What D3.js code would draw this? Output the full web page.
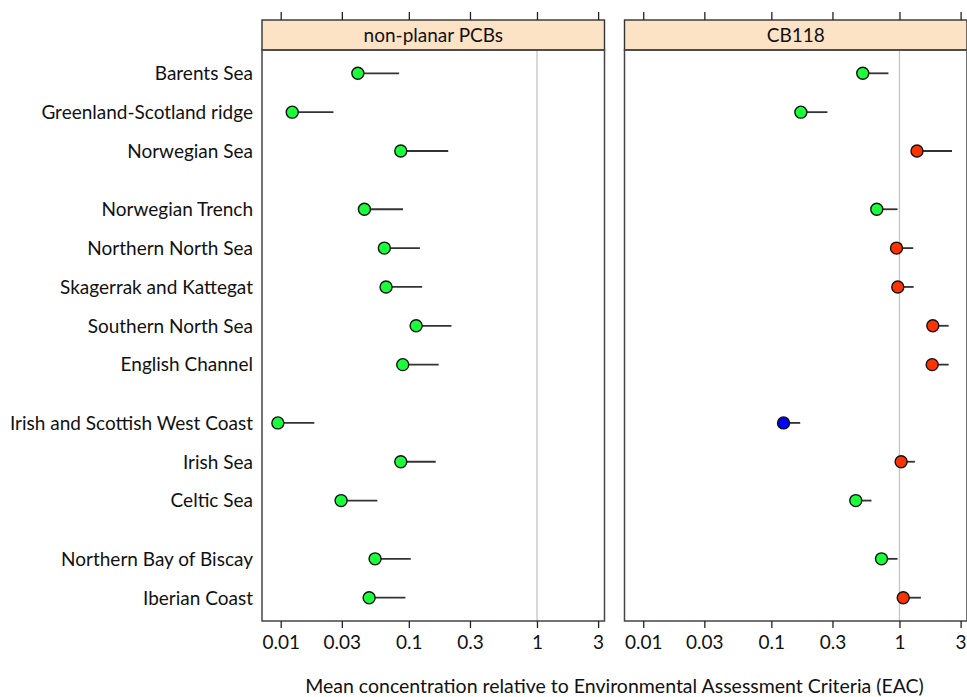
<!DOCTYPE html>
<html>
<head>
<meta charset="utf-8">
<script src="https://cdn.jsdelivr.net/npm/d3@7"></script>
<style>
  html, body { margin: 0; padding: 0; background: #ffffff; }
  svg { display: block; }
  text { font-family: Lato, "Open Sans", sans-serif; fill: #111; }
</style>
</head>
<body>
<svg id="chart" width="967" height="697"></svg>
<script>
// Regions, top to bottom; group index puts extra space between sea areas
const regions = [
  "Barents Sea", "Greenland-Scotland ridge", "Norwegian Sea",
  "Norwegian Trench", "Northern North Sea", "Skagerrak and Kattegat",
  "Southern North Sea", "English Channel",
  "Irish and Scottish West Coast", "Irish Sea", "Celtic Sea",
  "Northern Bay of Biscay", "Iberian Coast"
];
const regionGroup = [0, 0, 0, 1, 1, 1, 1, 1, 2, 2, 2, 3, 3];

const panels = ["non-planar PCBs", "CB118"];

// Mean concentration / EAC, and upper confidence limit
const pcbMean  = [0.040, 0.0123, 0.0865, 0.045, 0.0644, 0.0664, 0.114, 0.0896, 0.0095, 0.0865, 0.0296, 0.0545, 0.049];
const pcbUpper = [0.084, 0.0258, 0.203, 0.090, 0.122, 0.127, 0.215, 0.171, 0.0183, 0.162, 0.0568, 0.1035, 0.094];
const pcbStatus = ["green", "green", "green", "green", "green", "green", "green", "green", "green", "green", "green", "green", "green"];

const cb118Mean  = [0.517, 0.170, 1.37, 0.665, 0.948, 0.970, 1.82, 1.80, 0.1245, 1.03, 0.456, 0.724, 1.07];
const cb118Upper = [0.82, 0.274, 2.57, 0.965, 1.28, 1.29, 2.42, 2.42, 0.168, 1.32, 0.605, 0.965, 1.47];
const cb118Status = ["green", "green", "red", "green", "red", "red", "red", "red", "blue", "red", "green", "green", "red"];

const tickValues = [0.01, 0.03, 0.1, 0.3, 1, 3];
const tickLabels = ["0.01", "0.03", "0.1", "0.3", "1", "3"];
const xTitle = "Mean concentration relative to Environmental Assessment Criteria (EAC)";

const statusColor = { green: "#19ff3c", red: "#ff3300", blue: "#0000ff" };

const series = [
  { mean: pcbMean, upper: pcbUpper, status: pcbStatus },
  { mean: cb118Mean, upper: cb118Upper, status: cb118Status }
];

const svg = d3.select("#chart");
const fontSize = "19px";

// Layout
const panelTop = 50, panelBottom = 621, stripTop = 20;
const panelX = [[262, 604.5], [624.5, 967]];
const xDomain = [Math.pow(10, -2.146), Math.pow(10, 0.527)];

const pos = regions.map((r, i) => i + 0.5 * regionGroup[i]);
const y = d3.scaleLinear().domain([-0.6, d3.max(pos) + 0.6]).range([panelTop, panelBottom]);

// Region labels
svg.append("g")
  .selectAll("text")
  .data(regions)
  .join("text")
  .attr("x", 253)
  .attr("y", (d, i) => y(pos[i]))
  .attr("dy", "0.36em")
  .attr("text-anchor", "end")
  .style("font-size", fontSize)
  .text(d => d);

panels.forEach((name, p) => {
  const x = d3.scaleLog().domain(xDomain).range(panelX[p]);
  const g = svg.append("g");
  const s = series[p];

  // Reference line at EAC = 1
  g.append("line")
    .attr("x1", x(1)).attr("x2", x(1))
    .attr("y1", panelTop).attr("y2", panelBottom)
    .attr("stroke", "#c4c4c4").attr("stroke-width", 1.3);

  // Strip
  g.append("rect")
    .attr("x", panelX[p][0]).attr("y", stripTop)
    .attr("width", panelX[p][1] - panelX[p][0]).attr("height", panelTop - stripTop)
    .attr("fill", "#fde3c6").attr("stroke", "#333").attr("stroke-width", 1.4);
  g.append("text")
    .attr("x", (panelX[p][0] + panelX[p][1]) / 2)
    .attr("y", 42)
    .attr("text-anchor", "middle")
    .style("font-size", fontSize)
    .text(name);

  // Panel box
  g.append("rect")
    .attr("x", panelX[p][0]).attr("y", panelTop)
    .attr("width", panelX[p][1] - panelX[p][0]).attr("height", panelBottom - panelTop)
    .attr("fill", "none").attr("stroke", "#444").attr("stroke-width", 1.5);

  // Bottom axis
  const bottomAxis = d3.axisBottom(x)
    .tickValues(tickValues)
    .tickFormat((d, i) => tickLabels[i])
    .tickSize(7).tickPadding(8).tickSizeOuter(0);
  const ga = g.append("g").attr("transform", `translate(0,${panelBottom})`).call(bottomAxis);
  ga.select(".domain").remove();
  ga.selectAll("line").attr("stroke", "#222").attr("stroke-width", 1.3);
  ga.selectAll("text").style("font-size", fontSize).style("font-family", "Lato, 'Open Sans', sans-serif").attr("fill", "#111");

  // Top ticks above the strip
  const topAxis = d3.axisTop(x).tickValues(tickValues).tickFormat("").tickSize(8).tickSizeOuter(0);
  const gt = g.append("g").attr("transform", `translate(0,${stripTop})`).call(topAxis);
  gt.select(".domain").remove();
  gt.selectAll("line").attr("stroke", "#222").attr("stroke-width", 1.3);

  // Upper limit whiskers
  g.append("g")
    .selectAll("line")
    .data(regions)
    .join("line")
    .attr("x1", (d, i) => x(s.mean[i]))
    .attr("x2", (d, i) => x(s.upper[i]))
    .attr("y1", (d, i) => y(pos[i]))
    .attr("y2", (d, i) => y(pos[i]))
    .attr("stroke", "#333").attr("stroke-width", 1.8);

  // Points
  g.append("g")
    .selectAll("circle")
    .data(regions)
    .join("circle")
    .attr("cx", (d, i) => x(s.mean[i]))
    .attr("cy", (d, i) => y(pos[i]))
    .attr("r", 6)
    .attr("fill", (d, i) => statusColor[s.status[i]])
    .attr("stroke", "#111").attr("stroke-width", 1.4);
});

// Axis title
svg.append("text")
  .attr("x", (panelX[0][0] + panelX[1][1]) / 2)
  .attr("y", 693)
  .attr("text-anchor", "middle")
  .style("font-size", "19.5px")
  .text(xTitle);
</script>
</body>
</html>
